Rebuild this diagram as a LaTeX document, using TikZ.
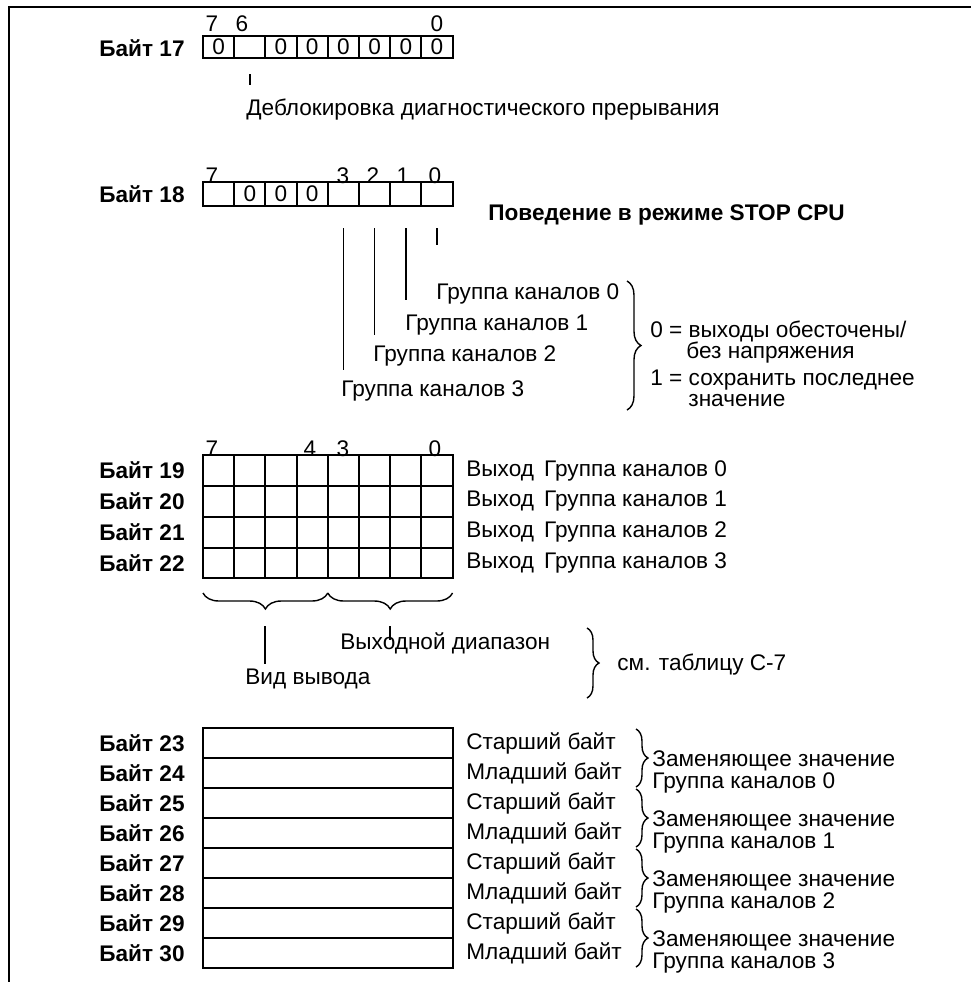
\documentclass[tikz,border=0pt]{standalone}
\usepackage{fontspec}
\setmainfont{Liberation Sans}
\usetikzlibrary{positioning, calc, decorations.pathreplacing}

\newcommand{\lblfont}{\fontsize{11.3}{13}\selectfont}

\tikzset{
	% plain text labels
	txt/.style={inner sep=0pt, font=\lblfont},
	% byte names on the left
	bytelbl/.style={inner sep=0pt, font=\lblfont\bfseries, anchor=east},
	% bit numbers above the boxes
	bitnum/.style={inner sep=0pt, font=\lblfont, anchor=base},
	% one bit cell
	cell/.style={draw, line width=1pt, inner sep=0pt, outer sep=0pt,
		minimum width=15.6pt, minimum height=15.4pt, font=\lblfont},
	flat cell/.style={cell, minimum height=11pt},
	wide cell/.style={cell, minimum width=124.8pt, minimum height=15pt},
	% short leader lines
	tickline/.style={line width=0.7pt},
	% curly braces
	brc/.style={decorate, line width=0.7pt},
	frame/.style={line width=1pt}
}

\begin{document}
\begin{tikzpicture}[x=0.5pt, y=-0.5pt]
	\useasboundingbox (0,0) rectangle (971,982);
	
	%--- Frame ------------------------------------------------------------
	\draw[frame] (9,982) -- (9,7) -- (971,7);
	
	%--- Byte 17 ----------------------------------------------------------
	\node[bytelbl] (lbl17) at (185,48) {Байт 17};
	\foreach \i/\v in {0/0,1/{},2/0,3/0,4/0,5/0,6/0,7/0}
		\node[flat cell] (c17-\i) at ({218.6+31.2*\i},47) {\v};
	\foreach \b/\x in {7/212,6/242,0/437}
		\node[bitnum] (n17-\b) at (\x,31) {\b};
	
	\coordinate (tk17-a) at ($(c17-1.south)+(0,16)$);
	\coordinate (tk17-b) at ($(tk17-a)+(0,11)$);
	\draw[tickline] (tk17-a) -- (tk17-b);
	\node[txt, anchor=base west] (diag) at (246,115)
	{Деблокировка диагностического прерывания};
	
	%--- Byte 18 ----------------------------------------------------------
	\node[bytelbl] (lbl18) at (185,194) {Байт 18};
	\foreach \i/\v in {0/{},1/0,2/0,3/0,4/{},5/{},6/{},7/{}}
		\node[cell, minimum height=12pt] (c18-\i) at ({218.6+31.2*\i},194) {\v};
	\foreach \b/\x in {7/212,3/343,2/373,1/403,0/435}
		\node[bitnum] (n18-\b) at (\x,183) {\b};
	
	\node[txt, font=\lblfont\bfseries, anchor=base west] (stop) at (488,220)
	{Поведение в режиме STOP CPU};
	
	\foreach \i/\e in {4/142,5/107,6/72,7/17}{
		\coordinate (tk\i-a) at ($(c18-\i.south)+(0,22)$);
		\coordinate (tk\i-b) at ($(tk\i-a)+(0,\e)$);
		\draw[tickline] (tk\i-a) -- (tk\i-b);
	}
	\node[txt, anchor=base west] (grp0) at (436,299) {Группа каналов 0};
	\node[txt, anchor=base west] (grp1) at (405,330) {Группа каналов 1};
	\node[txt, anchor=base west] (grp2) at (373,361) {Группа каналов 2};
	\node[txt, anchor=base west] (grp3) at (341,396) {Группа каналов 3};
	
	\coordinate (br1-a) at (627,281);
	\coordinate (br1-b) at (627,410);
	\draw[brc, decoration={brace, amplitude=7pt}] (br1-a) -- (br1-b);
	
	\node[txt, anchor=base west] (st0)  at (650,337) {0 = выходы обесточены/};
	\node[txt, anchor=base west] (st0b) at (686,358) {без напряжения};
	\node[txt, anchor=base west] (st1)  at (650,385) {1 = сохранить последнее};
	\node[txt, anchor=base west] (st1b) at (688,406) {значение};
	
	%--- Bytes 19 to 22 ---------------------------------------------------
	\foreach \b/\x in {7/212,4/310,3/343,0/435}
		\node[bitnum] (n19-\b) at (\x,456) {\b};
	\foreach \r/\n in {0/19,1/20,2/21,3/22}{
		\node[bytelbl] (lbl\n) at (185,{470.5+30.8*\r}) {Байт \n};
		\foreach \i in {0,...,7}
			\node[cell] (c\n-\i) at ({218.6+31.2*\i},{470.5+30.8*\r}) {};
		\node[txt, anchor=west] (out\r) at (466,{470.5+30.8*\r})
		{Выход\hspace{0.45em}Группа каналов \r};
	}
	
	% braces under the grid
	\coordinate (bv-l) at (203,593);
	\coordinate (bv-m) at (327.8,593);
	\coordinate (bv-r) at (452.6,593);
	\draw[brc, decoration={brace, amplitude=8pt}] (bv-m) -- (bv-l);
	\draw[brc, decoration={brace, amplitude=8pt}] (bv-r) -- (bv-m);
	
	\coordinate (tkv-a) at (265,626);
	\coordinate (tkv-b) at (265,664);
	\coordinate (tkr-a) at (390,626);
	\coordinate (tkr-b) at (390,640);
	\draw[tickline] (tkv-a) -- (tkv-b);
	\draw[tickline] (tkr-a) -- (tkr-b);
	
	\node[txt, anchor=base west] (range) at (340,649) {Выходной диапазон};
	\node[txt, anchor=base west] (kind)  at (245,684) {Вид вывода};
	
	\coordinate (br2-a) at (587,628);
	\coordinate (br2-b) at (587,698);
	\draw[brc, decoration={brace, amplitude=6pt}] (br2-a) -- (br2-b);
	\node[txt, anchor=base west] (tab) at (617,670) {см. таблицу С-7};
	
	%--- Bytes 23 to 30 ---------------------------------------------------
	\foreach \r/\n/\w in {0/23/Старший,1/24/Младший,2/25/Старший,3/26/Младший,
		4/27/Старший,5/28/Младший,6/29/Старший,7/30/Младший}{
		\node[bytelbl] (lbl\n) at (185,{743+30*\r}) {Байт \n};
		\node[wide cell] (c\n) at (327.8,{743+30*\r}) {};
		\node[txt, anchor=west] (hl\n) at (466,{743+30*\r}) {\w\ байт};
	}
	
	% substitute values, one brace per channel group
	\foreach \k in {0,...,3}{
		\coordinate (brs\k-a) at (636,{729+60*\k});
		\coordinate (brs\k-b) at (636,{787+60*\k});
		\draw[brc, decoration={brace, amplitude=6pt}] (brs\k-a) -- (brs\k-b);
		\node[txt, font=\fontsize{11.3}{8}\selectfont, align=left,
			anchor=north west] (subst\k) at (652,{750+60*\k})
		{Заменяющее значение\\Группа каналов \k};
	}
	
\end{tikzpicture}
\end{document}
